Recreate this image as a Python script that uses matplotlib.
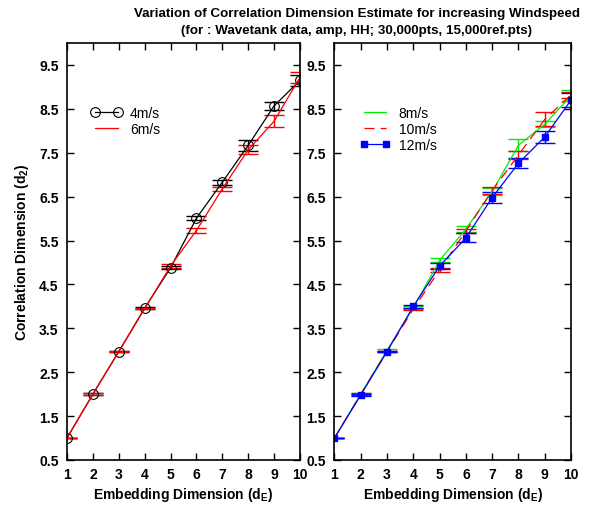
import matplotlib
matplotlib.use("Agg")
import matplotlib.pyplot as plt

plt.rcParams['font.family'] = ['Liberation Sans', 'DejaVu Sans']
plt.rcParams['mathtext.fontset'] = 'custom'
plt.rcParams['mathtext.bf'] = 'Liberation Sans:bold'
plt.rcParams['mathtext.rm'] = 'Liberation Sans:bold'

# embedding dimension
dims = [1, 2, 3, 4, 5, 6, 7, 8, 9, 10]

# left panel
d2_4ms = [1.0, 2.0, 2.97, 3.96, 4.88, 6.01, 6.83, 7.67, 8.57, 9.15]
err_4ms = [0.01, 0.02, 0.01, 0.02, 0.04, 0.05, 0.06, 0.12, 0.09, 0.12]
d2_6ms = [1.0, 2.0, 2.97, 3.95, 4.92, 5.73, 6.68, 7.57, 8.22, 9.22]
err_6ms = [0.01, 0.03, 0.02, 0.02, 0.04, 0.05, 0.05, 0.10, 0.14, 0.13]

# right panel
d2_8ms = [1.0, 2.0, 3.0, 3.97, 5.05, 5.76, 6.62, 7.67, 8.15, 8.80]
err_8ms = [0.01, 0.02, 0.03, 0.03, 0.05, 0.06, 0.08, 0.14, 0.07, 0.12]
d2_10ms = [1.0, 2.0, 2.97, 3.94, 4.83, 5.72, 6.64, 7.45, 8.26, 8.82]
err_10ms = [0.01, 0.02, 0.02, 0.03, 0.05, 0.05, 0.08, 0.09, 0.16, 0.07]
d2_12ms = [1.0, 1.98, 2.97, 4.0, 4.92, 5.56, 6.48, 7.26, 7.86, 8.70]
err_12ms = [0.01, 0.02, 0.02, 0.03, 0.06, 0.10, 0.13, 0.11, 0.14, 0.16]

yticks = [0.5, 1.5, 2.5, 3.5, 4.5, 5.5, 6.5, 7.5, 8.5, 9.5]

fig = plt.figure(figsize=(5.93, 5.06), dpi=100)
ax1 = fig.add_axes([0.113, 0.089, 0.393, 0.824])
ax2 = fig.add_axes([0.564, 0.089, 0.399, 0.824])

cap = 7.5
leg_kw = dict(loc='upper left', frameon=False, numpoints=2, handlelength=2.2,
              fontsize=10, labelspacing=0.15, handletextpad=0.6)

# left
ax1.errorbar(dims, d2_4ms, yerr=err_4ms, fmt='none', ecolor='black', elinewidth=1, capsize=cap, capthick=1)
ax1.errorbar(dims, d2_6ms, yerr=err_6ms, fmt='none', ecolor='red', elinewidth=1, capsize=cap, capthick=1)
l4, = ax1.plot(dims, d2_4ms, color='black', lw=0.9, marker='o', mfc='none', mec='black', ms=7, mew=0.8, label='4m/s')
l6, = ax1.plot(dims, d2_6ms, color='red', lw=0.9, label='6m/s')
ax1.legend(handles=[l4, l6], bbox_to_anchor=(0.05, 0.88), **leg_kw)

# right
ax2.errorbar(dims, d2_8ms, yerr=err_8ms, fmt='none', ecolor='#00ee00', elinewidth=1, capsize=cap, capthick=1)
ax2.errorbar(dims, d2_10ms, yerr=err_10ms, fmt='none', ecolor='red', elinewidth=1, capsize=cap, capthick=1)
ax2.errorbar(dims, d2_12ms, yerr=err_12ms, fmt='none', ecolor='blue', elinewidth=1, capsize=cap, capthick=1)
l8, = ax2.plot(dims, d2_8ms, color='#00ee00', lw=0.9, label='8m/s')
l10, = ax2.plot(dims, d2_10ms, color='red', lw=0.9, dashes=(8, 5), label='10m/s')
l12, = ax2.plot(dims, d2_12ms, color='blue', lw=0.9, marker='s', ms=4.5, mfc='blue', mec='blue', label='12m/s')
ax2.legend(handles=[l8, l10, l12], bbox_to_anchor=(0.055, 0.88), **leg_kw)

for ax in (ax1, ax2):
    ax.set_xlim(1, 10)
    ax.set_ylim(0.5, 10)
    ax.set_xticks(dims)
    ax.set_yticks(yticks)
    ax.set_yticklabels([str(v) for v in yticks])
    ax.tick_params(direction='in', top=True, right=True, length=5, width=1, labelsize=10)
    ax.tick_params(axis='x', pad=5)
    ax.tick_params(axis='y', pad=6)
    for lab in ax.get_xticklabels() + ax.get_yticklabels():
        lab.set_fontweight('bold')
    for sp in ax.spines.values():
        sp.set_linewidth(1.2)
    ax.set_xlabel(r'Embedding Dimension (d$_\mathbf{E}$)', fontsize=10, fontweight='bold', labelpad=3)

ax1.set_ylabel(r'Correlation Dimension (d$_\mathbf{2}$)', fontsize=10, fontweight='bold', labelpad=6)

fig.text(0.602, 0.985, 'Variation of Correlation Dimension Estimate for increasing Windspeed',
         ha='center', va='top', fontsize=9.6, fontweight='bold')
fig.text(0.602, 0.950, '(for : Wavetank data, amp, HH; 30,000pts, 15,000ref.pts)',
         ha='center', va='top', fontsize=9.6, fontweight='bold')

fig.savefig('out.png', dpi=100)
